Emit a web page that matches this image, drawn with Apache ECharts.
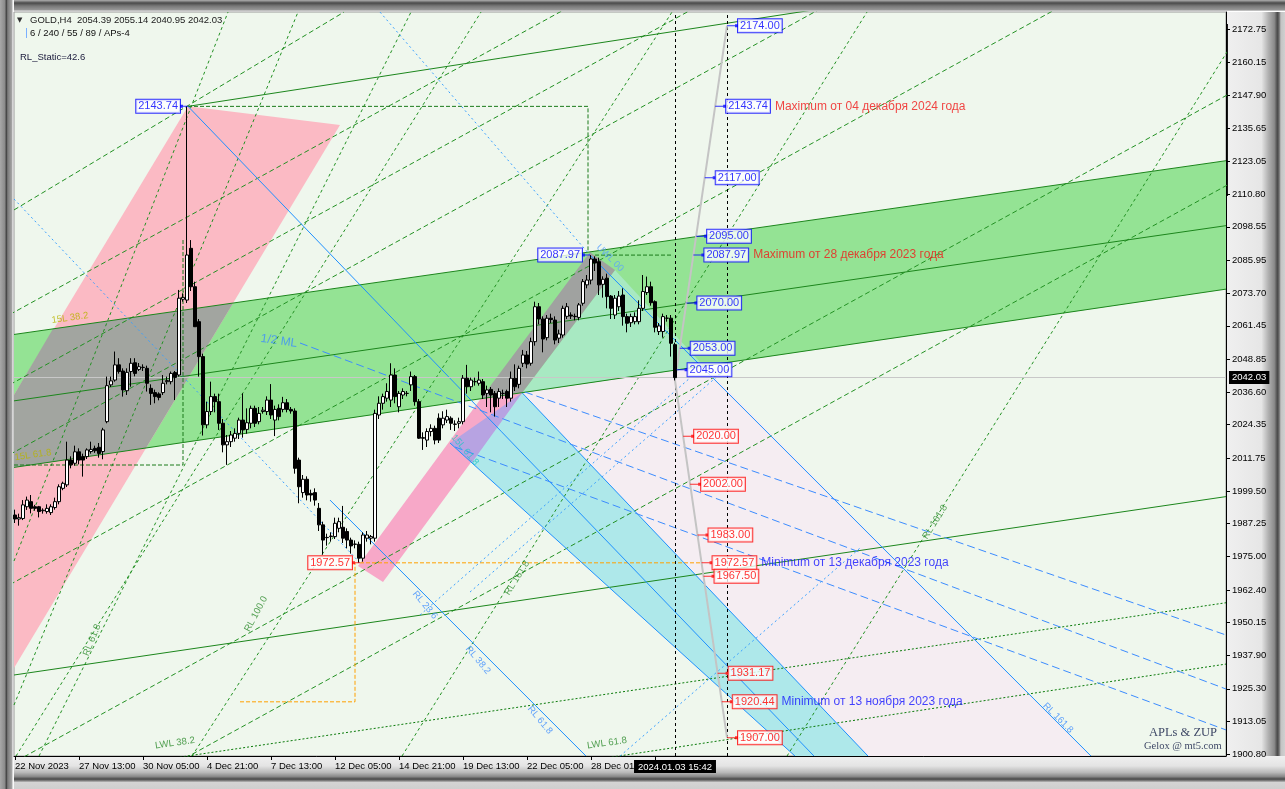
<!DOCTYPE html>
<html><head><meta charset="utf-8">
<script src="https://cdn.jsdelivr.net/npm/echarts@6/dist/echarts.min.js"></script>
<style>html,body{margin:0;padding:0;background:#d4d4d4;}#c{width:1285px;height:789px;}</style>
</head><body><div id="c"></div><script>
// ---------- axes ----------
const yTicks = [2172.75,2160.15,2147.90,2135.65,2123.05,2110.80,2098.55,2085.95,2073.70,2061.45,2048.85,2036.60,2024.35,2011.75,1999.50,1987.25,1975.00,1962.40,1950.15,1937.90,1925.30,1913.05,1900.80];
const xTickIdx = [0,16,32,48,64,80,96,112,128,144,160];
const xTickLabels = ['22 Nov 2023','27 Nov 13:00','30 Nov 05:00','4 Dec 21:00','7 Dec 13:00','12 Dec 05:00','14 Dec 21:00','19 Dec 13:00','22 Dec 05:00','28 Dec 01:00','2 Jan 09:00'];
const currentPrice = 2042.03;
const currentTime = '2024.01.03 15:42';
const lastBar = 165, futureBar = 178;

// ---------- H4 candles: [open, high, low, close] ----------
const ohlc = [
[1990.5,1992.5,1987.5,1989.0],[1989.0,1991.0,1986.5,1989.5],[1989.2,1996.1,1988.6,1994.3],[1993.6,1997.4,1992.4,1996.1],
[1995.5,1998.0,1991.1,1993.0],[1993.6,1994.3,1992.1,1993.0],[1993.6,1993.9,1989.6,1991.8],[1992.1,1993.0,1991.0,1992.3],
[1991.8,1994.5,1991.0,1993.0],[1991.4,1994.5,1990.5,1993.6],[1993.3,1997.0,1992.5,1995.5],[1995.5,2002.0,1994.5,2001.1],
[2000.5,2003.0,1999.8,2002.4],[2001.8,2018.0,2001.0,2011.1],[2011.1,2012.5,2008.0,2009.3],[2009.9,2016.5,2009.0,2014.2],
[2014.2,2015.5,2009.5,2011.1],[2012.4,2013.5,2004.9,2011.1],[2012.4,2015.5,2011.5,2014.9],[2014.3,2018.0,2013.5,2015.1],
[2015.5,2016.5,2013.8,2014.6],[2015.9,2017.5,2012.0,2013.6],[2014.3,2023.2,2011.4,2022.4],[2025.5,2042.4,2024.9,2039.0],
[2039.3,2042.4,2038.5,2040.8],[2041.1,2051.8,2040.5,2046.8],[2046.8,2049.3,2043.5,2044.3],[2044.5,2045.5,2034.9,2037.4],
[2037.1,2045.5,2035.5,2044.0],[2044.3,2049.3,2038.6,2047.4],[2047.6,2049.3,2042.5,2043.6],[2045.1,2047.5,2044.5,2046.1],
[2045.8,2047.0,2044.5,2045.9],[2045.5,2046.5,2036.8,2039.9],[2038.0,2039.5,2031.8,2036.1],[2036.4,2037.5,2032.4,2034.9],
[2035.9,2036.5,2033.5,2034.6],[2036.4,2043.0,2035.5,2039.9],[2040.5,2042.4,2039.5,2040.9],[2040.5,2044.3,2039.5,2043.6],
[2043.9,2044.5,2033.6,2042.1],[2043.0,2074.9,2042.4,2071.8],[2071.4,2073.5,2070.5,2072.1],[2071.1,2143.74,2070.0,2088.0],
[2090.5,2093.6,2074.5,2076.1],[2076.1,2078.0,2061.0,2061.1],[2063.0,2064.0,2042.4,2049.9],[2049.9,2051.0,2020.3,2024.3],
[2024.3,2033.0,2023.0,2029.3],[2029.3,2040.5,2028.0,2034.9],[2034.9,2036.0,2029.0,2033.0],[2033.0,2036.0,2022.4,2024.9],
[2024.9,2026.5,2014.0,2016.8],[2016.8,2020.5,2009.3,2018.0],[2018.0,2022.0,2016.0,2020.5],[2019.3,2023.0,2018.0,2021.1],
[2021.1,2027.0,2019.0,2026.1],[2026.1,2036.1,2019.5,2022.4],[2022.6,2030.5,2021.0,2025.1],[2024.9,2031.5,2023.0,2030.5],
[2030.5,2031.5,2023.5,2024.9],[2025.5,2031.0,2024.5,2028.6],[2029.3,2031.0,2028.5,2029.8],[2029.3,2035.0,2028.0,2033.6],
[2033.6,2039.6,2026.5,2028.0],[2026.1,2031.5,2020.1,2030.1],[2030.5,2032.0,2026.0,2027.4],[2030.1,2034.8,2029.0,2032.6],
[2032.6,2034.0,2029.0,2030.1],[2030.1,2031.0,2028.5,2029.5],[2029.5,2030.5,2006.0,2008.0],[2011.1,2012.0,1994.9,2001.1],
[1998.9,2005.5,1997.0,2003.9],[2003.9,2005.0,1996.0,1998.0],[1998.6,2000.0,1995.5,1998.0],[1998.9,2000.5,1994.0,1996.1],
[1993.0,1995.0,1984.5,1986.8],[1986.8,1988.0,1975.6,1981.1],[1982.1,1983.5,1979.0,1982.0],[1982.4,1984.0,1980.5,1982.6],
[1982.4,1989.5,1981.5,1987.4],[1985.5,1989.5,1984.0,1988.0],[1985.9,1993.9,1980.0,1981.8],[1984.3,1985.5,1978.0,1981.1],
[1981.1,1982.0,1976.0,1978.9],[1979.5,1981.0,1978.0,1979.6],[1979.5,1980.5,1972.57,1974.3],[1974.3,1984.0,1973.0,1983.0],
[1981.8,1984.5,1980.5,1983.0],[1981.8,1983.0,1979.5,1982.4],[1981.8,2030.0,1980.5,2028.6],[2028.0,2035.0,2026.5,2032.4],
[2032.4,2036.0,2030.0,2034.9],[2034.3,2039.9,2033.0,2036.8],[2033.6,2047.4,2031.0,2043.0],[2043.0,2045.5,2032.4,2034.9],
[2031.1,2037.0,2029.0,2036.1],[2035.5,2038.0,2034.0,2036.8],[2036.1,2037.0,2035.0,2036.1],[2039.3,2044.3,2037.0,2042.4],
[2042.4,2043.0,2031.5,2033.0],[2033.0,2034.0,2019.0,2019.3],[2019.5,2021.5,2014.9,2019.3],[2018.6,2023.0,2016.0,2021.8],
[2021.8,2024.5,2020.0,2023.0],[2023.0,2024.0,2017.0,2018.6],[2026.8,2028.6,2017.5,2018.6],[2024.3,2029.4,2023.0,2026.8],
[2026.1,2030.0,2025.0,2027.4],[2026.8,2027.5,2022.4,2024.9],[2024.6,2026.0,2022.0,2024.5],[2024.9,2027.0,2023.0,2025.5],
[2025.5,2043.0,2024.5,2041.8],[2041.8,2046.8,2036.0,2038.6],[2038.6,2042.0,2037.0,2041.1],[2040.5,2042.0,2039.0,2040.5],
[2039.9,2044.3,2039.0,2041.1],[2040.5,2041.5,2034.0,2035.5],[2036.1,2039.0,2031.0,2037.4],[2037.6,2038.5,2029.0,2035.5],
[2036.1,2037.0,2027.4,2031.1],[2034.3,2038.0,2031.0,2036.8],[2036.1,2037.5,2034.0,2036.1],[2036.8,2037.5,2031.0,2034.3],
[2034.3,2044.3,2033.0,2041.8],[2041.8,2047.0,2037.0,2038.6],[2039.5,2046.5,2038.0,2045.5],[2047.4,2052.4,2046.0,2050.5],
[2050.5,2052.0,2045.5,2047.1],[2047.4,2057.0,2046.5,2055.5],[2055.5,2070.5,2054.0,2068.6],[2068.6,2070.0,2062.0,2064.0],
[2064.0,2065.0,2051.5,2056.5],[2057.0,2065.5,2056.0,2064.3],[2064.3,2066.0,2062.5,2063.8],[2063.6,2065.0,2054.5,2056.1],
[2056.8,2060.0,2055.0,2058.4],[2058.0,2069.0,2057.0,2068.0],[2065.0,2070.0,2064.0,2068.6],[2065.5,2066.5,2064.0,2065.1],
[2065.0,2066.0,2063.5,2064.9],[2064.6,2070.0,2063.5,2069.3],[2069.9,2079.0,2069.0,2078.0],[2076.8,2080.5,2075.5,2078.6],
[2078.6,2087.97,2077.0,2086.5],[2086.5,2087.5,2082.0,2085.0],[2085.5,2087.0,2073.0,2076.8],[2077.0,2080.0,2072.0,2078.9],
[2079.3,2081.0,2068.0,2072.4],[2072.6,2073.0,2064.0,2068.0],[2065.5,2073.0,2064.0,2071.8],[2068.6,2074.5,2067.0,2072.6],
[2073.0,2075.5,2061.5,2064.9],[2064.9,2066.0,2059.0,2062.4],[2062.6,2066.0,2061.0,2064.9],[2063.0,2066.5,2062.0,2064.9],
[2063.0,2071.0,2062.0,2068.0],[2068.0,2080.5,2067.0,2074.3],[2073.9,2079.9,2073.0,2076.1],[2076.1,2078.0,2069.0,2070.1],
[2070.5,2071.0,2059.0,2060.9],[2059.3,2062.5,2058.0,2061.4],[2059.3,2066.0,2057.0,2064.9],[2064.3,2065.5,2063.0,2064.3],
[2064.3,2065.5,2049.9,2054.9],[2054.39,2055.14,2040.95,2042.03]
];

// ---------- filled zones: [barIndex, price] vertices ----------
const greenChannel = [[-0.25,2058.2],[302.75,2123.36],[302.75,2075.2],[-0.25,2008.35]];
const pinkFan1 = [[43.25,2143.74],[81.25,2136.75],[-0.25,1933.1],[-0.25,2035.5]];
const grayZone1 = [[9.5,2060.3],[54.5,2069.9],[32.75,2015.6],[-0.25,2008.35],[-0.25,2035.5]];
const pinkFan2 = [[116.4,2034.0],[126.8,2036.3],[92,1965.4],[85.75,1971.4]];
const grayZone2 = [[143.75,2089.0],[150,2082.4],[126.8,2036.3],[116.4,2034.0]];
const cyanBand = [[108.75,2017.5],[126.8,2036.3],[213.25,1900.1],[195,1900.1]];
const purpleZone = [[108.75,2017.5],[126.8,2036.3],[114.2,2010.1]];
const mintZone = [[150,2082.4],[172.25,2046.3],[126.8,2036.3]];
const lightPinkZone = [[126.8,2036.3],[172.25,2046.3],[269,1900.1],[213.25,1900.1]];

// ---------- lines ----------
const channelUpper = [[-0.25,2058.2],[302.75,2123.36]];
const channelMedian = [[-0.25,2033.3],[302.75,2099.0]];
const channelLower = [[-0.25,2008.35],[302.75,2075.2]];
const pitchUpper = [[43.25,2143.74],[200,2180.0]];
const pitchLower = [[-0.25,1930.5],[302.75,1997.4]];
const lwl382 = [[36.25,1898.6],[302.75,1957.6]];
const lwl618 = [[144.25,1898.6],[302.75,1934.6]];
const fanGentle = [
  [[-0.25,2104.9],[82.25,2179.1]],
  [[-10,2058.5],[320,2330.7]],
  [[-10,2032.2],[320,2304.5]],
  [[-10,2006.0],[320,2278.2]],
  [[-10,1957.2],[320,2229.5]],
  [[-10,1889.7],[320,2162.0]],
  [[-10,1856.0],[320,2128.2]]
];
const rlSteep = [
  [[-0.25,1973.25],[53.25,2179.1]],
  [[-0.25,1919.25],[70.75,2179.1]],
  [[6,1900.1],[99,2179.1]],
  [[0.25,1900.1],[116.5,2179.1]],
  [[44.25,1900.1],[164.25,2179.1]],
  [[96.75,1900.1],[213,2179.1]],
  [[193,1900.1],[309.25,2179.1]]
];
const boxHigh = [[43.25,2143.74],[143.25,2143.74],[143.25,2089.0]];
const boxLeft = [[-0.25,2009.25],[42,2009.25],[42,2094]];
const levelHigh2 = [[145,2087.97],[164.25,2087.97]];
const orangeLow = [[86.25,1972.57],[171.25,1972.57]];
const orangeBox = [[56.25,1920.44],[85,1920.44],[85,1972.57]];
const zupLine = [[178,2174.0],[165,2040.95],[178,1907.0]];
const blueSolid = [
  [[43.25,2143.74],[199.75,1900.1]],
  [[143.75,2087.97],[269,1900.1]],
  [[108.75,2017.5],[195,1900.1]],
  [[126.8,2036.3],[213.25,1900.1]],
  [[78.75,1996.1],[142.75,1900.1]]
];
const blueLong = [
  [[71.25,2055.0],[302.75,1925.25]],
  [[127.5,2036.6],[302.75,1945.5]],
  [[110,2016.0],[302.75,1909.9]]
];
const blueDot = [
  [[-0.25,2109.0],[86.25,1972.57]],
  [[91.25,2179.1],[143.75,2087.97]],
  [[113.75,1961.6],[176.25,2043.4]],
  [[101.25,1953.0],[168.75,2041.9]],
  [[151.25,1900.1],[211.25,1978.1]]
];
const scaleBar = [[303.4,2174.6],[303.4,2110.1]];

// ---------- text annotations ----------
const tagsBlue = [2174.00,2143.74,2117.00,2095.00,2087.97,2070.00,2053.00,2045.00];
const tagsRed = [2020.00,2002.00,1983.00,1972.57,1967.50,1931.17,1920.44,1907.00];
const notePrices = [2143.74,2087.97,1972.57,1920.44];
const noteTexts = ['Maximum от 04 декабря 2024 года','Maximum от 28 декабря 2023 года','Minimum от 13 декабря 2023 года','Minimum от 13 ноября 2023 года'];
const noteColors = ['red','red','blue','blue'];
const pivotTags = [[43.25,2143.74],[143.75,2087.97],[86.25,1972.57]];
const pivotTagColors = ['blue','blue','red'];
const lineNames = ['15L 38.2','15L 61.8','1/2 ML','RL 61.8','RL 100.0','RL 161.8','RL 161.8','LWL 38.2','LWL 61.8','RL 23.6','RL 38.2','RL 61.8','RL 161.8','15L 61.8','UWL 00'];
const lineNamePos = [[13.75,2064.4],[4.5,2013.0],[66,2055.75],[19.25,1943.6],[60.25,1953.4],[125.5,1966.9],[230,1987.9],[40,1905.0],[148,1905.0],[102.5,1956.75],[115.75,1936.1],[131.25,1913.6],[260.75,1914.4],[112.5,2014.9],[148.75,2086.9]];
const lineNameRot = [8,8,-8,68,62,58,58,8,8,-50,-50,-50,-45,-50,-45];
const lineNameColor = ['#b8b400','#b8b400','#3c8cff','#2a8a2a','#2a8a2a','#2a8a2a','#2a8a2a','#2a8a2a','#2a8a2a','#3c8cff','#3c8cff','#3c8cff','#3c8cff','#22c4c4','#5aa0ff'];

// ---------- build ----------
const FONT = 'Liberation Sans';
function zupIndex(p){
  const a = zupLine[1];
  const b = p >= a[1] ? zupLine[0] : zupLine[2];
  return a[0] + (b[0]-a[0])*(p-a[1])/(b[1]-a[1]);
}
function poly(pts, fill){
  return {type:'custom', coordinateSystem:'cartesian2d', clip:true, silent:true, z:1, animation:false,
    data:[pts[0]],
    renderItem:(params, api)=>({type:'polygon', shape:{points:pts.map(p=>api.coord(p))}, style:{fill}})};
}
function line(pts, color, type, width, z){
  return {type:'line', data:pts, symbol:'none', silent:true, clip:true, z:z||2, animation:false,
    lineStyle:{color, width:width||1, type:type||'solid'}};
}
const series = [];
series.push(poly(lightPinkZone,'#f5edf2'));
series.push(poly(cyanBand,'#aee8ea'));
series.push(poly(greenChannel,'#94e394'));
series.push(poly(mintZone,'#a8e9c2'));
series.push(poly(pinkFan1,'#fbbac4'));
series.push(poly(grayZone1,'#a2a5a0'));
series.push(poly(pinkFan2,'#f7a8c8'));
series.push(poly(purpleZone,'#b7a3e2'));
series.push(poly(grayZone2,'#a0a2a0'));

fanGentle.forEach(l=>series.push(line(l,'#229022',[5,3])));
rlSteep.forEach(l=>series.push(line(l,'#229022',[3,3])));
series.push(line(channelUpper,'#1c861c'));
series.push(line(channelMedian,'#1c861c'));
series.push(line(channelLower,'#1c861c'));
series.push(line(pitchUpper,'#1c861c'));
series.push(line(pitchLower,'#1c861c'));
series.push(line(lwl382,'#0a7a0a',[2,2]));
series.push(line(lwl618,'#0a7a0a',[2,2]));
series.push(line(boxHigh,'#1a7a1a',[4,2]));
series.push(line(boxLeft,'#1a7a1a',[4,2]));
series.push(line(levelHigh2,'#1a7a1a',[4,2]));
series.push(line(orangeLow,'#ffa000',[4,2]));
series.push(line(orangeBox,'#ffa000',[4,2]));
blueSolid.forEach(l=>series.push(line(l,'#1e90ff')));
blueLong.forEach(l=>series.push(line(l,'#3c8cff',[8,4])));
blueDot.forEach(l=>series.push(line(l,'#3aa0ff',[2,3])));
series.push(line(zupLine,'#c4c4c4','solid',2,3));
series.push(Object.assign(line(scaleBar,'#000','solid',3,6),{clip:false}));

series.push({
  type:'candlestick', z:4, animation:false, silent:true, barWidth:3,
  data: ohlc.map((c,i)=>[i,c[0],c[3],c[2],c[1]]),
  encode:{x:0, y:[1,2,3,4]},
  itemStyle:{color:'#ffffff', color0:'#000000', borderColor:'#000000', borderColor0:'#000000', borderWidth:1},
  markLine:{silent:true, symbol:['none','none'], animation:false, z:3, data:[
    {yAxis:currentPrice, lineStyle:{color:'#c8c8c8', width:1, type:'solid'},
     label:{show:true, position:'end', distance:3, formatter:currentPrice.toFixed(2), color:'#fff', backgroundColor:'#000', padding:[2,3,1,3], fontSize:9.5, fontFamily:FONT}},
    {xAxis:lastBar, lineStyle:{color:'#000', width:1, type:[3,3]},
     label:{show:true, position:'start', distance:4, formatter:currentTime, color:'#fff', backgroundColor:'#000', padding:[2,4,1,4], fontSize:9.5, fontFamily:FONT}},
    {xAxis:futureBar, lineStyle:{color:'#000', width:1, type:[3,3]}, label:{show:false}}
  ]}
});

const tagStyle = c => ({color:c==='blue'?'#0000ff':'#ff0000', borderColor:c==='blue'?'#0000ff':'#ff0000', borderWidth:1, backgroundColor:'#ffffff', padding:[1,2,1,2], fontSize:11, lineHeight:11, fontFamily:FONT});
const noteStyle = c => ({color:c==='blue'?'#1414ff':'#f01818', fontSize:12, fontFamily:FONT, padding:[0,0,0,5]});
const rightTags = [];
tagsBlue.forEach(p=>rightTags.push([p,'blue']));
tagsRed.forEach(p=>rightTags.push([p,'red']));
series.push({
  type:'scatter', z:7, silent:true, animation:false,
  symbol:'path://M0,1L8,1L8,0L11,0L11,3L8,3L8,2L0,2Z', symbolSize:[11,3], symbolOffset:[5.5,0],
  data: rightTags.map(([p,c])=>{
    const k = notePrices.indexOf(p);
    const rich = {t:tagStyle(c)};
    let fmt = '{t|'+p.toFixed(2)+'}';
    if(k>=0){ rich.n = noteStyle(noteColors[k]); fmt += '{n|'+noteTexts[k]+'}'; }
    return {value:[zupIndex(p),p], itemStyle:{color:c==='blue'?'#0000ff':'#ff0000'},
      label:{show:true, position:'right', distance:0, formatter:fmt, rich}};
  })
});
series.push({
  type:'scatter', z:7, silent:true, animation:false,
  symbol:'path://M8,1L3,1L3,0L0,0L0,3L3,3L3,2L8,2Z', symbolSize:[8,3], symbolOffset:[-4,0],
  data: pivotTags.map((v,k)=>({value:v, itemStyle:{color:pivotTagColors[k]==='blue'?'#0000ff':'#ff0000'},
    label:{show:true, position:'left', distance:0, formatter:'{t|'+v[1].toFixed(2)+'}', rich:{t:tagStyle(pivotTagColors[k])}}}))
});
series.push({
  type:'scatter', z:6, silent:true, animation:false, symbolSize:1, itemStyle:{color:'transparent'},
  data: lineNames.map((t,k)=>({value:lineNamePos[k],
    label:{show:true, position:'inside', formatter:t, rotate:lineNameRot[k], color:lineNameColor[k],
      fontSize:k===2?12:9.5, fontFamily:FONT}}))
});

const txt = (x,y,text,font,fill)=>({type:'text', x, y, z:10, style:{text, font, fill, textVerticalAlign:'middle'}});
const option = {
  animation:false,
  backgroundColor:'#d4d4d4',
  textStyle:{fontFamily:FONT},
  grid:{left:14, right:59, top:12, bottom:33, containLabel:false, outerBoundsMode:'none', show:true, backgroundColor:'#eff7ed', borderColor:'#9a9a9a', borderWidth:1},
  xAxis:{type:'value', min:-0.25, max:302.75, splitLine:{show:false},
    axisLine:{show:true, onZero:false, lineStyle:{color:'#000', width:1}},
    axisTick:{show:true, length:4, lineStyle:{color:'#000'}, customValues:xTickIdx},
    axisLabel:{show:true, customValues:xTickIdx, align:'left', margin:5, color:'#000', fontSize:9.5, fontFamily:FONT,
      formatter:v=>xTickLabels[xTickIdx.indexOf(Math.round(v))] || ''}},
  yAxis:{type:'value', position:'right', min:1900.125, max:2179.125, scale:true, splitLine:{show:false},
    axisLine:{show:true, onZero:false, lineStyle:{color:'#000', width:1}},
    axisTick:{show:true, length:4, lineStyle:{color:'#000'}, customValues:yTicks},
    axisLabel:{show:true, customValues:yTicks, margin:6, color:'#000', fontSize:9.5, fontFamily:FONT,
      formatter:v=>v.toFixed(2)}},
  graphic:{elements:[
    {type:'rect', z:-10, shape:{x:1226,y:0,width:59,height:789}, style:{fill:{type:'linear',x:0,y:0,x2:1,y2:0,colorStops:[
      {offset:0,color:'#f0f0f0'},{offset:0.6,color:'#e6e6e6'},{offset:0.72,color:'#b0b0b0'},{offset:0.82,color:'#8a8a8a'},
      {offset:0.87,color:'#4a4a4a'},{offset:0.9,color:'#6a6a6a'},{offset:0.93,color:'#c4c4c4'},{offset:1,color:'#d0d0d0'}]}}},
    {type:'rect', z:-9, shape:{x:0,y:756,width:1285,height:33}, style:{fill:{type:'linear',x:0,y:0,x2:0,y2:1,colorStops:[
      {offset:0,color:'#f0f0f0'},{offset:0.3,color:'#e4e4e4'},{offset:0.5,color:'#b8b8b8'},{offset:0.62,color:'#8a8a8a'},
      {offset:0.7,color:'#484848'},{offset:0.76,color:'#909090'},{offset:0.8,color:'#d4d4d4'},{offset:1,color:'#cfcfcf'}]}}},
    {type:'rect', z:-8, shape:{x:0,y:0,width:1285,height:12}, style:{fill:{type:'linear',x:0,y:0,x2:0,y2:1,colorStops:[
      {offset:0,color:'#b0b0b0'},{offset:0.25,color:'#4a4a4a'},{offset:0.5,color:'#787878'},{offset:0.85,color:'#9a9a9a'},
      {offset:0.92,color:'#ffffff'},{offset:1,color:'#ffffff'}]}}},
    {type:'rect', z:-8, shape:{x:0,y:0,width:14,height:789}, style:{fill:{type:'linear',x:0,y:0,x2:1,y2:0,colorStops:[
      {offset:0,color:'#a8a8a8'},{offset:0.35,color:'#8a8a8a'},{offset:0.45,color:'#404040'},{offset:0.55,color:'#7a7a7a'},
      {offset:0.85,color:'#a6a6a6'},{offset:0.93,color:'#ffffff'},{offset:1,color:'#f4f4f4'}]}}},
    txt(17,20,'▼','7px "DejaVu Sans"','#303030'),
    txt(30,20,'GOLD,H4  2054.39 2055.14 2040.95 2042.03','9.5px "Liberation Sans"','#202020'),
    {type:'rect', z:10, shape:{x:26,y:28,width:1,height:10}, style:{fill:'#7ab0ff'}},
    txt(30,33,'6 / 240 / 55 / 89 / APs-4','9.5px "Liberation Sans"','#101010'),
    txt(20,57,'RL_Static=42.6','9.5px "Liberation Sans"','#202040'),
    txt(1149,733,'APLs & ZUP','12.5px "Liberation Serif"','#3e4866'),
    txt(1144,746,'Gelox @ mt5.com','10.5px "Liberation Serif"','#3e4866')
  ]},
  series
};
const chart = echarts.init(document.getElementById('c'), null, {renderer:'canvas'});
chart.setOption(option);
</script></body></html>
